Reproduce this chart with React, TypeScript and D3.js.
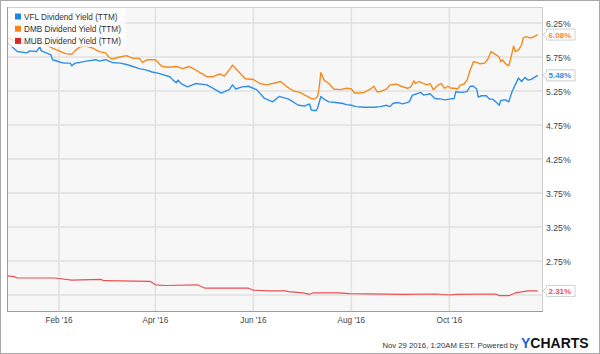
import React from 'react';
import * as d3 from 'd3';

const vflDates = ['2015-12-31','2016-01-06','2016-01-12','2016-01-14','2016-01-18','2016-01-20','2016-01-21','2016-01-27','2016-01-28','2016-02-01','2016-02-04','2016-02-08','2016-02-09','2016-02-11','2016-02-14','2016-02-18','2016-02-24','2016-02-26','2016-03-01','2016-03-05','2016-03-10','2016-03-14','2016-03-18','2016-03-22','2016-03-26','2016-03-30','2016-04-03','2016-04-10','2016-04-12','2016-04-14','2016-04-15','2016-04-17','2016-04-21','2016-04-26','2016-05-03','2016-05-07','2016-05-12','2016-05-17','2016-05-19','2016-05-21','2016-05-25','2016-05-29','2016-06-03','2016-06-08','2016-06-13','2016-06-17','2016-06-23','2016-06-29','2016-07-03','2016-07-06','2016-07-07','2016-07-10','2016-07-11','2016-07-13','2016-07-15','2016-07-18','2016-07-22','2016-07-26','2016-07-29','2016-08-01','2016-08-04','2016-08-09','2016-08-15','2016-08-19','2016-08-23','2016-08-25','2016-08-27','2016-08-30','2016-09-02','2016-09-06','2016-09-08','2016-09-11','2016-09-13','2016-09-15','2016-09-19','2016-09-22','2016-09-26','2016-09-28','2016-10-01','2016-10-04','2016-10-05','2016-10-09','2016-10-12','2016-10-14','2016-10-16','2016-10-18','2016-10-19','2016-10-21','2016-10-24','2016-10-26','2016-10-28','2016-10-30','2016-11-01','2016-11-02','2016-11-05','2016-11-07','2016-11-09','2016-11-11','2016-11-13','2016-11-15','2016-11-17','2016-11-19','2016-11-21','2016-11-25'];
const vflValues = [5.96,5.83,5.81,5.84,5.83,5.90,5.84,5.78,5.71,5.68,5.66,5.66,5.62,5.66,5.67,5.69,5.71,5.69,5.71,5.67,5.66,5.64,5.61,5.58,5.56,5.53,5.51,5.46,5.41,5.37,5.41,5.36,5.31,5.36,5.34,5.29,5.22,5.27,5.34,5.28,5.31,5.32,5.27,5.14,5.09,5.17,5.13,5.04,5.03,5.06,4.97,4.96,5.00,5.17,5.13,5.09,5.08,5.07,5.05,5.04,5.02,5.01,5.01,5.02,5.04,5.02,5.07,5.08,5.06,5.09,5.19,5.21,5.23,5.19,5.21,5.14,5.13,5.12,5.13,5.14,5.24,5.23,5.24,5.32,5.32,5.28,5.16,5.18,5.18,5.13,5.13,5.09,5.04,5.11,5.12,5.09,5.24,5.34,5.44,5.39,5.45,5.41,5.42,5.48];

const dmbDates = ['2015-12-31','2016-01-08','2016-01-16','2016-01-20','2016-01-24','2016-01-28','2016-02-01','2016-02-05','2016-02-09','2016-02-11','2016-02-14','2016-02-18','2016-02-22','2016-02-26','2016-03-01','2016-03-03','2016-03-05','2016-03-10','2016-03-14','2016-03-18','2016-03-22','2016-03-24','2016-03-27','2016-04-01','2016-04-05','2016-04-10','2016-04-14','2016-04-18','2016-04-22','2016-04-26','2016-05-03','2016-05-07','2016-05-11','2016-05-14','2016-05-17','2016-05-19','2016-05-23','2016-05-27','2016-06-01','2016-06-05','2016-06-09','2016-06-13','2016-06-18','2016-06-22','2016-06-26','2016-06-30','2016-07-03','2016-07-07','2016-07-09','2016-07-11','2016-07-12','2016-07-13','2016-07-15','2016-07-18','2016-07-21','2016-07-25','2016-07-29','2016-08-01','2016-08-03','2016-08-06','2016-08-09','2016-08-13','2016-08-15','2016-08-17','2016-08-19','2016-08-23','2016-08-25','2016-08-29','2016-09-01','2016-09-05','2016-09-07','2016-09-09','2016-09-10','2016-09-12','2016-09-15','2016-09-17','2016-09-19','2016-09-21','2016-09-24','2016-09-26','2016-09-28','2016-09-30','2016-10-02','2016-10-04','2016-10-06','2016-10-08','2016-10-10','2016-10-12','2016-10-14','2016-10-16','2016-10-18','2016-10-20','2016-10-23','2016-10-25','2016-10-27','2016-10-29','2016-11-01','2016-11-02','2016-11-03','2016-11-05','2016-11-07','2016-11-08','2016-11-10','2016-11-11','2016-11-13','2016-11-15','2016-11-16','2016-11-18','2016-11-20','2016-11-22','2016-11-25'];
const dmbValues = [6.03,5.95,5.95,5.96,5.93,5.88,5.84,5.80,5.79,5.84,5.90,5.91,5.88,5.83,5.81,5.75,5.72,5.75,5.77,5.73,5.73,5.67,5.71,5.71,5.61,5.60,5.61,5.58,5.61,5.56,5.46,5.46,5.50,5.47,5.56,5.63,5.53,5.43,5.42,5.36,5.34,5.36,5.39,5.31,5.25,5.23,5.19,5.14,5.13,5.17,5.31,5.52,5.41,5.36,5.28,5.27,5.29,5.28,5.22,5.22,5.23,5.28,5.32,5.24,5.24,5.28,5.34,5.35,5.32,5.29,5.31,5.40,5.36,5.39,5.36,5.34,5.36,5.27,5.34,5.36,5.29,5.32,5.29,5.29,5.28,5.34,5.35,5.41,5.56,5.68,5.67,5.65,5.66,5.72,5.83,5.80,5.75,5.68,5.71,5.65,5.62,5.71,5.91,5.83,5.85,5.93,6.03,6.05,6.03,6.04,6.08];

const mubDates = ['2015-12-31','2016-01-04','2016-01-06','2016-01-29','2016-02-09','2016-02-27','2016-02-29','2016-03-29','2016-04-01','2016-04-07','2016-04-27','2016-05-02','2016-05-29','2016-06-01','2016-06-11','2016-06-21','2016-06-23','2016-07-02','2016-07-06','2016-07-08','2016-07-24','2016-07-31','2016-09-02','2016-09-23','2016-10-01','2016-10-05','2016-10-30','2016-11-01','2016-11-07','2016-11-11','2016-11-19','2016-11-25'];
const mubValues = [2.53,2.52,2.50,2.50,2.47,2.48,2.46,2.45,2.40,2.39,2.40,2.35,2.35,2.32,2.31,2.31,2.30,2.28,2.26,2.28,2.28,2.27,2.26,2.265,2.25,2.26,2.265,2.24,2.24,2.28,2.31,2.31];

const seriesNames = ['VFL Dividend Yield (TTM)', 'DMB Dividend Yield (TTM)', 'MUB Dividend Yield (TTM)'];
const seriesColors = ['#2f8ee6', '#f68a1f', '#ea5054'];
const legendColors = ['#1f86e6', '#f5861a', '#e0262c'];

const gridValues = [2.25, 2.75, 3.25, 3.75, 4.25, 4.75, 5.25, 5.75, 6.25];
const yLabelValues = [2.75, 3.25, 3.75, 4.25, 4.75, 5.25, 5.75, 6.25];
const xTickDates = ['2016-02-01', '2016-04-01', '2016-06-01', '2016-08-01', '2016-10-01'];
const xTickLabels = ["Feb '16", "Apr '16", "Jun '16", "Aug '16", "Oct '16"];
const footerText = 'Nov 29 2016, 1:20AM EST.  Powered by';

const FONT = '"Liberation Sans", Arial, sans-serif';

export default function App() {
  const W = 600, H = 354;
  const L = 7, R = 543, T = 7, B = 312;
  const parse = d3.timeParse('%Y-%m-%d');
  const x = d3.scaleTime()
    .domain([new Date(2015, 11, 30, 15), new Date(2016, 10, 28, 7)])
    .range([L, R]);
  const y = d3.scaleLinear().domain([2, 6.5]).range([B, 6]);
  const line = d3.line<[Date, number]>()
    .x(d => x(d[0]))
    .y(d => y(d[1]));

  const series = [
    { dates: vflDates, values: vflValues },
    { dates: dmbDates, values: dmbValues },
    { dates: mubDates, values: mubValues },
  ].map((s, i) => ({
    pts: s.dates.map((dd, j) => [parse(dd) as Date, s.values[j]] as [Date, number]),
    color: seriesColors[i],
    last: s.values[s.values.length - 1],
  }));

  const fmt = (v: number) => d3.format('.2f')(v) + '%';

  return (
    <svg width={W} height={H} style={{ position: 'absolute', left: 0, top: 0, display: 'block' }} fontFamily={FONT}>
      <rect x={0.5} y={0.5} width={W - 1} height={H - 1} fill="#fff" stroke="#a8a8a8" />
      <rect x={L} y={T} width={R - L} height={B - T} fill="#f7f7f7" />
      {gridValues.map(v => (
        <line key={v} x1={L} x2={R} y1={y(v)} y2={y(v)} stroke="#e1e1e1" strokeWidth={1.5} />
      ))}
      {xTickDates.map(d => (
        <line key={d} x1={x(parse(d) as Date)} x2={x(parse(d) as Date)} y1={T} y2={B} stroke="#e1e1e1" strokeWidth={1.5} />
      ))}
      <line x1={L} x2={R} y1={T + 0.5} y2={T + 0.5} stroke="#cfcfcf" />
      <line x1={R - 0.5} x2={R - 0.5} y1={T} y2={B} stroke="#cfcfcf" />
      <line x1={L + 0.5} x2={L + 0.5} y1={T} y2={B} stroke="#9c9c9c" />
      <line x1={L} x2={R} y1={B - 0.5} y2={B - 0.5} stroke="#9c9c9c" />

      {[2, 1, 0].map(i => (
        <path key={i} d={line(series[i].pts) || ''} fill="none" stroke={series[i].color} strokeWidth={i === 2 ? 1.2 : 1.4} strokeLinejoin="round" />
      ))}

      <rect x={8} y={8} width={118} height={39} fill="#fff" fillOpacity={0.72} />
      {seriesNames.map((n, i) => (
        <g key={n}>
          <rect x={15} y={13.5 + i * 12.2} width={6} height={6} fill={legendColors[i]} />
          <text x={24} y={20 + i * 12.2} fontSize={8.2} fill="#333">{n}</text>
        </g>
      ))}

      {yLabelValues.map(v => (
        <text key={v} x={546} y={y(v) + 3.6} fontSize={8.7} fill="#444">{fmt(v)}</text>
      ))}
      {xTickDates.map((d, i) => (
        <text key={d} x={x(parse(d) as Date)} y={322.5} fontSize={8.2} fill="#444" textAnchor="middle">{xTickLabels[i]}</text>
      ))}

      {series.map((s, i) => {
        const cy = y(s.last);
        const top = cy - 5.5, bot = cy + 5.5;
        return (
          <g key={i}>
            <path d={`M${R},${cy} L${R + 3.5},${cy - 3} L${R + 3.5},${top} L${R + 32},${top} L${R + 32},${bot} L${R + 3.5},${bot} L${R + 3.5},${cy + 3} Z`} fill="#fff" stroke="#c4c4c4" strokeWidth={0.8} />
            <text x={R + 5.5} y={cy + 3} fontSize={8} fontWeight="bold" fill={s.color}>{fmt(s.last)}</text>
          </g>
        );
      })}

      <text x={518} y={348} fontSize={7.7} fill="#333" textAnchor="end">{footerText}</text>
      <text x={521} y={347.5} fontSize={14} fontWeight="bold" fill="#111">
        <tspan fill="#1c63d6">Y</tspan>CHARTS
      </text>
    </svg>
  );
}
